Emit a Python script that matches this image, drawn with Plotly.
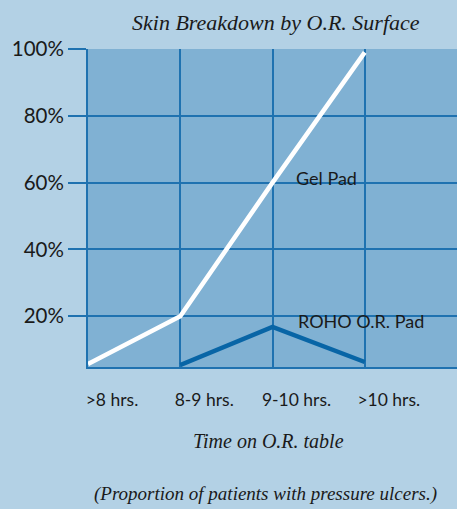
import plotly.graph_objects as go

categories = [">8 hrs.", "8-9 hrs.", "9-10 hrs.", ">10 hrs."]
gel_pad = [5.7, 20, 60, 99]
roho_pad = [None, 5.4, 16.8, 6.3]
y_ticks = [20, 40, 60, 80, 100]
y_tick_labels = ["20%", "40%", "60%", "80%", "100%"]

x_pos = list(range(len(categories)))

PAPER = "#b3d1e5"
PLOT = "#80b1d3"
GRID = "#1f72b0"
SANS = "Lato, Liberation Sans, sans-serif"
SERIF = "Liberation Serif, serif"

fig = go.Figure()
fig.add_trace(go.Scatter(x=x_pos, y=gel_pad, mode="lines",
                         line=dict(color="white", width=4.5), name="Gel Pad",
                         cliponaxis=False))
fig.add_trace(go.Scatter(x=x_pos, y=roho_pad, mode="lines",
                         line=dict(color="#0865a6", width=4.5), name="ROHO O.R. Pad",
                         cliponaxis=False))

fig.add_annotation(x=2.23, y=61.5, text="Gel Pad", showarrow=False, xanchor="left",
                   font=dict(family=SANS, size=18, color="#1a1a1a"))
fig.add_annotation(x=2.26, y=18.6, text="ROHO O.R. Pad", showarrow=False, xanchor="left",
                   font=dict(family=SANS, size=18, color="#1a1a1a"))

fig.add_annotation(xref="paper", yref="paper", x=0.51, y=1, yshift=27,
                   text="<i>Skin Breakdown by O.R. Surface</i>", showarrow=False,
                   xanchor="center", yanchor="middle",
                   font=dict(family=SERIF, size=22, color="#1a1a1a"))
fig.add_annotation(xref="paper", yref="paper", x=0.49, y=0, yshift=-74,
                   text="<i>Time on O.R. table</i>", showarrow=False,
                   xanchor="center", yanchor="middle",
                   font=dict(family=SERIF, size=20, color="#1a1a1a"))
fig.add_annotation(xref="paper", yref="paper", x=0.48, y=0, yshift=-127,
                   text="<i>(Proportion of patients with pressure ulcers.)</i>", showarrow=False,
                   xanchor="center", yanchor="middle",
                   font=dict(family=SERIF, size=19, color="#1a1a1a"))

fig.update_layout(
    width=457, height=509,
    margin=dict(l=88, r=0, t=49, b=142),
    paper_bgcolor=PAPER, plot_bgcolor=PLOT,
    showlegend=False,
    xaxis=dict(range=[0, 4], tickvals=x_pos, ticktext=categories,
               showgrid=True, gridcolor=GRID, gridwidth=1.5,
               zeroline=False, showline=True, linecolor=GRID, linewidth=2,
               ticks="", ticklabelshift=24, ticklabelstandoff=16,
               tickfont=dict(family=SANS, size=17.5, color="#1a1a1a"),
               fixedrange=True),
    yaxis=dict(range=[4.8, 100], tickvals=y_ticks, ticktext=y_tick_labels,
               showgrid=True, gridcolor=GRID, gridwidth=1.5,
               zeroline=False, showline=True, linecolor=GRID, linewidth=2,
               ticks="outside", ticklen=18, tickcolor=GRID, tickwidth=1.5,
               tickfont=dict(family=SANS, size=20.5, color="#1a1a1a"),
               fixedrange=True),
)

fig.write_html("out.html", config={"displayModeBar": False},
               post_script="document.body.style.margin='0';document.body.style.overflow='hidden';")
